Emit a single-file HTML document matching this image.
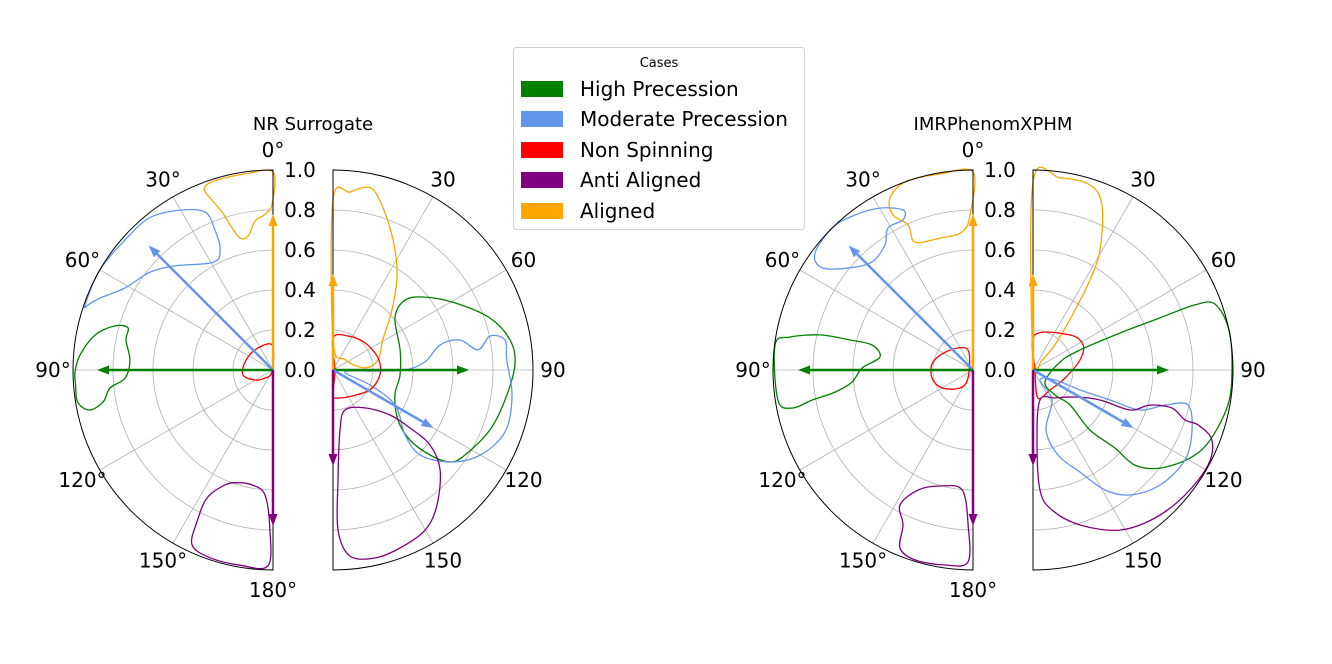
<!DOCTYPE html>
<html><head><meta charset="utf-8">
<style>
body{margin:0;background:#fff;}
svg{display:block;font-family:"DejaVu Sans","Liberation Sans",sans-serif;}
</style></head>
<body>
<svg id="chart" width="1332" height="664" viewBox="0 0 1332 664" xmlns="http://www.w3.org/2000/svg">
<rect width="1332" height="664" fill="#fff"/>
<g id="panels"></g>
<g id="legend">
  <rect x="513.5" y="47.5" width="291" height="182" rx="3" fill="#fff" stroke="#d0d0d0"/>
  <text x="659" y="67" font-size="13" text-anchor="middle">Cases</text>
  <g><rect x="521" y="81" width="42" height="16" fill="green"/><text x="580" y="96" font-size="20">High Precession</text></g>
  <g><rect x="521" y="111" width="42" height="16" fill="cornflowerblue"/><text x="580" y="126" font-size="20">Moderate Precession</text></g>
  <g><rect x="521" y="142" width="42" height="16" fill="red"/><text x="580" y="157" font-size="20">Non Spinning</text></g>
  <g><rect x="521" y="172" width="42" height="16" fill="purple"/><text x="580" y="187" font-size="20">Anti Aligned</text></g>
  <g><rect x="521" y="203" width="42" height="16" fill="orange"/><text x="580" y="218" font-size="20">Aligned</text></g>
</g>
</svg>
<script>
const radialTicks=[0.0,0.2,0.4,0.6,0.8,1.0];
const angleTicks=[0,30,60,90,120,150,180];
const caseColors={green:"green",blue:"cornflowerblue",red:"red",purple:"purple",orange:"orange"};

// arrows [angleDeg, length]
const nrLeftArrows=[["orange",0,0.78],["blue",45,0.88],["green",90,0.88],["purple",180,0.78]];
const nrRightArrows=[["orange",0,0.48],["green",90,0.68],["blue",120,0.58],["purple",180,0.48]];
const imLeftArrows=[["orange",0,0.78],["blue",45,0.88],["green",90,0.875],["purple",180,0.78]];
const imRightArrows=[["orange",0,0.48],["green",90,0.68],["blue",120,0.58],["purple",180,0.48]];

// contours: [theta, r]
const nrLeftOrange=[[0,0.99],[8.1,0.99],[17,0.99],[20.8,0.97],[19.7,0.9],[17.9,0.83],[16.1,0.74],[14,0.68],[10.6,0.68],[6.9,0.75],[2.9,0.78],[0.3,0.83]];
const nrLeftBlue=[[70.9,0.995],[60,1.0],[48.7,0.985],[39,0.98],[30.2,0.925],[23.3,0.86],[22.5,0.76],[23.5,0.665],[28.6,0.615],[43.3,0.715],[51.5,0.786],[61,0.846],[67.4,0.937],[70.6,0.98]];
const nrLeftGreen=[[94.3,0.99],[99.3,0.99],[102.3,0.94],[100.7,0.865],[96.3,0.82],[93.1,0.74],[86,0.717],[78.5,0.75],[73.8,0.755],[74.4,0.82],[78.9,0.907],[85.6,0.968],[90.6,0.99]];
const nrLeftRed=[[2,0.125],[42,0.135],[74,0.145],[99.5,0.152],[119,0.103],[135,0.057],[150,0.01]];
const nrLeftPurple=[[157.3,0.623],[152.7,0.72],[153.4,0.85],[155.2,0.964],[161.5,0.99],[170.4,0.99],[178.5,0.98],[178.9,0.8],[176.3,0.626],[169.7,0.584],[162.8,0.59]];

const nrRightOrange=[[0,0.85],[5.5,0.894],[11.5,0.93],[16.5,0.86],[24.8,0.716],[34,0.573],[44.5,0.42],[59,0.29],[77.5,0.23],[86,0.16],[50,0.08],[0,0.15]];
const nrRightGreen=[[50,0.405],[45.8,0.5],[51.6,0.587],[61.2,0.696],[71.7,0.827],[80.4,0.898],[88.4,0.91],[99.9,0.873],[110.9,0.84],[122.8,0.785],[128.2,0.744],[131.2,0.645],[132.3,0.52],[127.6,0.41],[112,0.334],[94.3,0.336],[73.4,0.35]];
const nrRightBlue=[[99.5,0.06],[112,0.2],[119.4,0.356],[132,0.485],[134.3,0.608],[128.2,0.744],[120,0.85],[109.8,0.914],[98,0.904],[86.7,0.87],[80.1,0.873],[77.8,0.803],[82.1,0.732],[76.7,0.652],[76.8,0.55],[85,0.462],[90,0.36],[91.5,0.21]];
const nrRightRed=[[0,0.16],[23.8,0.186],[49.8,0.21],[75,0.233],[96,0.236],[118,0.21],[143.8,0.161],[170,0.142],[180,0.125],[90,0.01]];
const nrRightPurple=[[163.3,0.209],[173.3,0.302],[177.4,0.55],[178.2,0.8],[174.8,0.934],[167.4,0.963],[159.4,0.951],[150,0.923],[142.4,0.852],[133,0.732],[127.7,0.613],[127,0.482],[128.3,0.363],[139.9,0.248]];

const imLeftOrange=[[0,0.99],[9.6,0.994],[19.7,1.0],[25.8,0.955],[27.3,0.872],[24.1,0.795],[24.4,0.703],[14,0.68],[4.6,0.692],[1.1,0.775]];
const imLeftBlue=[[53.5,0.983],[55.9,0.911],[50.3,0.8],[43.1,0.74],[35.2,0.764],[30.9,0.828],[25,0.828],[23.6,0.873],[29.9,0.934],[37.3,0.974],[44.6,1.0]];
const imLeftGreen=[[82.8,0.998],[98.7,0.987],[101.9,0.925],[100.6,0.819],[99.1,0.699],[95.7,0.608],[89,0.555],[82,0.47],[76.1,0.52],[76.3,0.633],[77.1,0.785],[79.8,0.93]];
const imLeftRed=[[14,0.103],[49,0.152],[78.7,0.204],[101,0.209],[120,0.179],[144,0.111],[148,0.047]];
const imLeftPurple=[[151.6,0.767],[155.4,0.66],[164.1,0.603],[174.8,0.602],[178.2,0.775],[178.5,0.96],[171.8,0.985],[163,0.993],[157.7,0.962],[155.7,0.85]];

const imRightOrange=[[0,0.94],[8,0.97],[17.1,0.968],[22.7,0.894],[29.2,0.687],[32.3,0.533],[35,0.366],[39.8,0.195],[42,0.067],[0,0.05]];
const imRightRed=[[3,0.175],[46.6,0.255],[63.4,0.28],[78,0.24],[104,0.165],[139.6,0.131],[170,0.142],[90,0.01]];
const imRightGreen=[[135,0.085],[73.5,0.141],[67,0.255],[67,0.473],[67.7,0.686],[68.1,0.873],[70.1,0.968],[78.5,1.0],[90,0.995],[100.2,0.99],[111.6,0.952],[119.3,0.9],[127.7,0.802],[133,0.697],[133.6,0.566],[136.5,0.414],[133.4,0.255],[138.7,0.166]];
const imRightBlue=[[145,0.061],[147.7,0.178],[167.8,0.307],[163.6,0.443],[155.3,0.562],[149,0.7],[142.2,0.791],[132.2,0.857],[120.6,0.883],[110.7,0.85],[102.7,0.794],[104.9,0.683],[110.5,0.571],[111.3,0.413],[113,0.255],[114.4,0.121]];
const imRightPurple=[[166.9,0.154],[176.7,0.35],[176.7,0.6],[172.3,0.706],[163.1,0.81],[151.5,0.911],[140.5,0.959],[129.4,0.984],[118.5,0.996],[111.4,0.961],[108.4,0.87],[108.2,0.8],[105.3,0.72],[106.7,0.61],[112.4,0.525],[114.1,0.367],[122.7,0.25],[141.8,0.178]];

const NS="http://www.w3.org/2000/svg";
const R=200, CY=370;
function el(tag,attrs,parent){const e=document.createElementNS(NS,tag);for(const k in attrs)e.setAttribute(k,attrs[k]);parent.appendChild(e);return e;}
function makeAxis(cx,side){return function(th,r){const a=th*Math.PI/180;return [cx+side*R*r*Math.sin(a),CY-R*r*Math.cos(a)];};}
function smoothPath(pts){
  const n=pts.length;let d="M"+pts[0][0].toFixed(1)+","+pts[0][1].toFixed(1);
  for(let i=0;i<n;i++){
    const p0=pts[(i-1+n)%n],p1=pts[i],p2=pts[(i+1)%n],p3=pts[(i+2)%n];
    const c1=[p1[0]+(p2[0]-p0[0])/6,p1[1]+(p2[1]-p0[1])/6];
    const c2=[p2[0]-(p3[0]-p1[0])/6,p2[1]-(p3[1]-p1[1])/6];
    d+="C"+c1[0].toFixed(1)+","+c1[1].toFixed(1)+" "+c2[0].toFixed(1)+","+c2[1].toFixed(1)+" "+p2[0].toFixed(1)+","+p2[1].toFixed(1);
  }
  return d+"Z";
}
const root=document.getElementById("panels");
function drawPanel(name,cx,side,contours,arrows,degLabels){
  const g=el("g",{},root);
  
  
  const P=makeAxis(cx,side);
  const sweep=side<0?0:1;
  radialTicks.forEach(t=>{ if(t<=0||t>=1)return;
    const a=P(0,t),b=P(180,t);
    const c=el("path",{d:`M${a[0]},${a[1]} A${R*t},${R*t} 0 0 ${sweep} ${b[0]},${b[1]}`,fill:"none",stroke:"#b0b0b0","stroke-width":0.8},g);
    
    
  });
  angleTicks.forEach(t=>{ const b=P(t,1);
    const l=el("line",{x1:cx,y1:CY,x2:b[0],y2:b[1],stroke:"#b0b0b0","stroke-width":0.8},g);
    
    
  });
  contours.forEach(([col,data])=>{
    const pts=data.map(d=>P(d[0],d[1]));
    const p=el("path",{d:smoothPath(pts),fill:"none",stroke:caseColors[col],"stroke-width":1.3},g);
    
    
  });
  const a=P(0,1),b=P(180,1);
  const fr=el("path",{d:`M${a[0]},${a[1]} A${R},${R} 0 0 ${sweep} ${b[0]},${b[1]} Z`,fill:"none",stroke:"#000","stroke-width":1},g);
  
  
  arrows.forEach(([col,th,len])=>{
    const tip=P(th,len);const base=P(th,len-12/R);
    const dx=(tip[0]-cx),dy=(tip[1]-CY);const L=Math.hypot(dx,dy);const ux=dx/L,uy=dy/L;
    const ln=el("line",{x1:cx,y1:CY,x2:base[0],y2:base[1],stroke:caseColors[col],"stroke-width":2.5},g);
    
    
    const hw=4.5;
    const hd=el("polygon",{points:`${tip[0]},${tip[1]} ${base[0]-uy*hw},${base[1]+ux*hw} ${base[0]+uy*hw},${base[1]-ux*hw}`,fill:caseColors[col]},g);
    
    
  });
  angleTicks.forEach(t=>{
    if(side>0&&(t===0||t===180))return;
    const p=P(t,1.1);
    const tx=el("text",{x:p[0],y:p[1]+7,"font-size":20,"text-anchor":"middle"},g);
    tx.textContent=t+degLabels;
    
    
  });
}
function radialLabels(x){
  radialTicks.forEach(t=>{
    const tx=el("text",{x:x,y:CY-R*t+7,"font-size":20,"text-anchor":"middle"},root);
    tx.textContent=t.toFixed(1);
    
    
  });
}
function title(x,s){const t=el("text",{x:x,y:130,"font-size":18,"text-anchor":"middle"},root);t.textContent=s;
  
  }

drawPanel("nr-left-panel",273,-1,[["orange",nrLeftOrange],["blue",nrLeftBlue],["green",nrLeftGreen],["red",nrLeftRed],["purple",nrLeftPurple]],nrLeftArrows,"°");
drawPanel("nr-right-panel",333,1,[["orange",nrRightOrange],["green",nrRightGreen],["blue",nrRightBlue],["red",nrRightRed],["purple",nrRightPurple]],nrRightArrows,"");
drawPanel("im-left-panel",973,-1,[["orange",imLeftOrange],["blue",imLeftBlue],["green",imLeftGreen],["red",imLeftRed],["purple",imLeftPurple]],imLeftArrows,"°");
drawPanel("im-right-panel",1033,1,[["orange",imRightOrange],["red",imRightRed],["green",imRightGreen],["blue",imRightBlue],["purple",imRightPurple]],imRightArrows,"");
radialLabels(300);radialLabels(1000);
title(313,"NR Surrogate");title(993,"IMRPhenomXPHM");
</script>
</body></html>
